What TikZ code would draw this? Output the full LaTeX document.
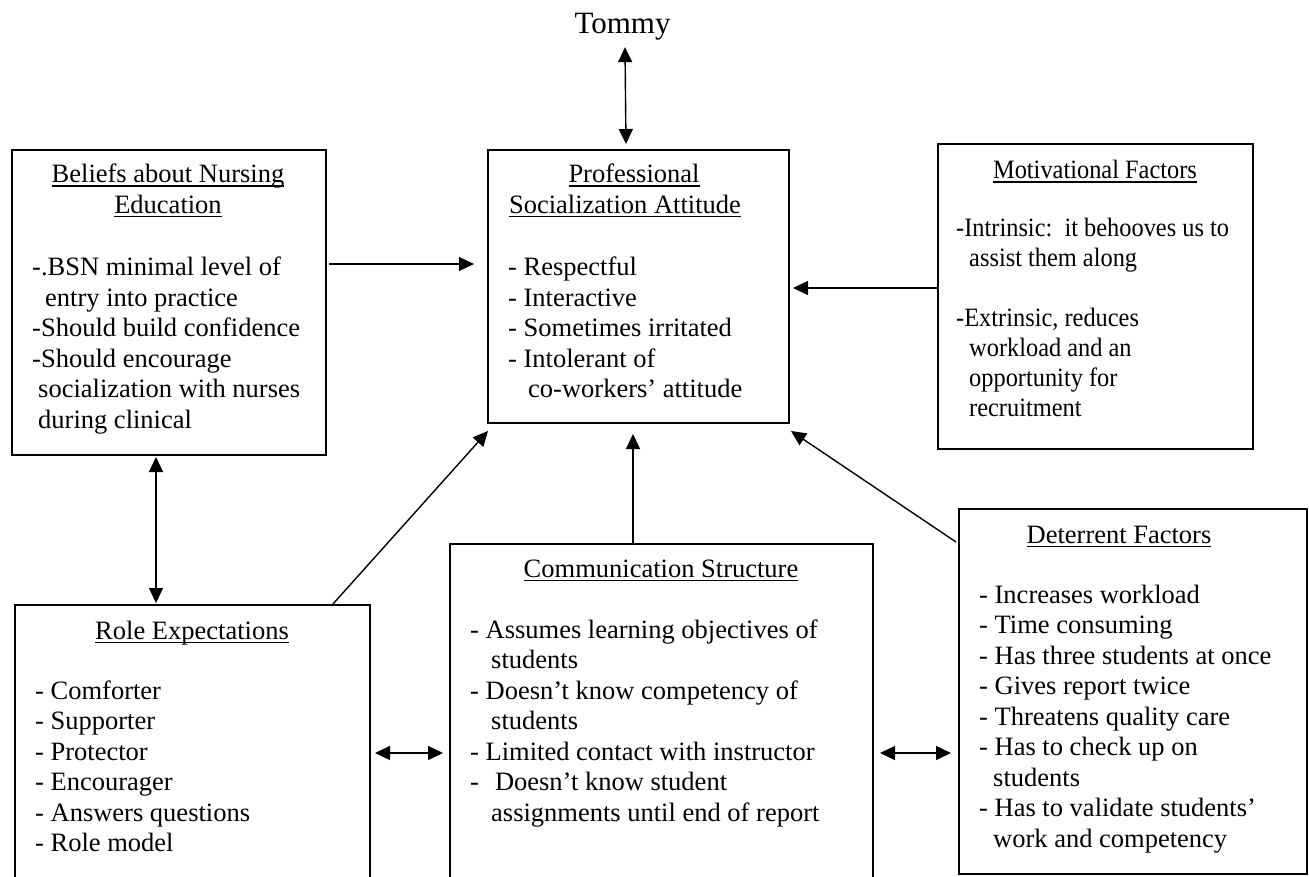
\documentclass[tikz,border=0pt]{standalone}
\usepackage{fontspec}
\setmainfont{Liberation Serif}
\newfontfamily\narrowserif[FakeStretch=0.92]{Liberation Serif}
\usetikzlibrary{arrows.meta}
% heading text with a rule a little below the baseline
\newcommand\undl[1]{\setbox0\hbox{#1}\rlap{\rule[-3.8pt]{\wd0}{1.3pt}}\box0}
\tikzset{
  box/.style={draw, line width=2pt, inner sep=0pt, anchor=north west},
  txt/.style={font=\fontsize{26.5pt}{30.5pt}\selectfont, inner sep=0pt},
  narrowtxt/.style={font=\narrowserif\fontsize{26.5pt}{30pt}\selectfont, inner sep=0pt},
  body/.style={txt, anchor=base west},
  ttl/.style={txt, anchor=base},
  tip/.tip={Triangle[length=15pt,width=14pt]},
  link/.style={line width=1.4pt, -tip},
  link2/.style={line width=1.4pt, tip-tip},
}
\begin{document}
\begin{tikzpicture}[x=1pt, y=-1pt]
\clip (0,0) rectangle (1309,877);
\fill[white] (0,0) rectangle (1309,877);

% boxes
\node[box, minimum width=314pt, minimum height=305pt] (bel) at (11,149) {};
\node[box, minimum width=301pt, minimum height=273pt] (prof) at (487,149) {};
\node[box, minimum width=315pt, minimum height=305pt] (mot) at (937,143) {};
\node[box, minimum width=355pt, minimum height=286pt] (role) at (14,604) {};
\node[box, minimum width=423pt, minimum height=347pt] (com) at (449,543) {};
\node[box, minimum width=348pt, minimum height=365pt] (det) at (958,508) {};

% top label
\node[font=\fontsize{31pt}{36pt}\selectfont, inner sep=0pt, anchor=base] (tommy) at (622.5,34) {Tommy};

% Beliefs about Nursing Education
\node[ttl] (belT) at (168,183) {\begin{tabular}[t]{@{}c@{}}\undl{Beliefs about Nursing}\\ \undl{Education}\end{tabular}};
\node[body] (belB) at (32,276) {\begin{tabular}[t]{@{}l@{}}
-.BSN minimal level of\\
\hspace*{13pt}entry into practice\\
-Should build confidence\\
-Should encourage\\
\hspace*{6pt}socialization with nurses\\
\hspace*{6pt}during clinical\end{tabular}};

% Professional Socialization Attitude
\node[ttl] (profT) at (625,183) {\begin{tabular}[t]{@{}c@{}}\hspace*{18pt}\undl{Professional}\\ \undl{Socialization Attitude}\end{tabular}};
\node[body] (profB) at (508,276) {\begin{tabular}[t]{@{}l@{}}
- Respectful\\
- Interactive\\
- Sometimes irritated\\
- Intolerant of\\
\hspace*{20pt}co-workers’ attitude\end{tabular}};

% Motivational Factors (set slightly narrower)
\node[narrowtxt, anchor=base] (motT) at (1095,179) {\undl{Motivational Factors}};
\node[narrowtxt, anchor=base west] (motB) at (956,236.5) {\begin{tabular}[t]{@{}l@{}}
-Intrinsic:\ \ it behooves us to\\
\hspace*{13pt}assist them along\\
\\
-Extrinsic, reduces\\
\hspace*{13pt}workload and an\\
\hspace*{13pt}opportunity for\\
\hspace*{13pt}recruitment\end{tabular}};

% Role Expectations
\node[ttl] (roleT) at (192,639) {\undl{Role Expectations}};
\node[body] (roleB) at (35,699) {\begin{tabular}[t]{@{}l@{}}
- Comforter\\
- Supporter\\
- Protector\\
- Encourager\\
- Answers questions\\
- Role model\end{tabular}};

% Communication Structure
\node[ttl] (comT) at (661,577) {\undl{Communication Structure}};
\node[body] (comB) at (470,638) {\begin{tabular}[t]{@{}l@{}}
- Assumes learning objectives of\\
\hspace*{21pt}students\\
- Doesn’t know competency of\\
\hspace*{21pt}students\\
- Limited contact with instructor\\
-\hspace*{16pt}Doesn’t know student\\
\hspace*{21pt}assignments until end of report\end{tabular}};

% Deterrent Factors
\node[ttl] (detT) at (1119,543) {\undl{Deterrent Factors}};
\node[body] (detB) at (979,603) {\begin{tabular}[t]{@{}l@{}}
- Increases workload\\
- Time consuming\\
- Has three students at once\\
- Gives report twice\\
- Threatens quality care\\
- Has to check up on\\
\hspace*{14pt}students\\
- Has to validate students’\\
\hspace*{14pt}work and competency\end{tabular}};

% connectors
\draw[link2] ([xshift=2.5pt, yshift=-6.3pt]tommy.south) -- ([xshift=-12.5pt, yshift=5pt]prof.north);
\draw[link] ([xshift=2pt, yshift=38.5pt]bel.east) -- ([xshift=-13pt, yshift=22.5pt]prof.west);
\draw[link] ([yshift=8.5pt]mot.west) -- ([xshift=3pt, yshift=-1.5pt]prof.east);
\draw[link2] ([xshift=-13pt, yshift=-1pt]bel.south) -- ([xshift=-36.5pt, yshift=1pt]role.north);
\draw[link] ([xshift=-38pt]role.north east) -- ([xshift=1pt, yshift=-7pt]prof.south west);
\draw[link] ([xshift=-28.5pt]com.north) -- ([xshift=-5.5pt, yshift=-10pt]prof.south);
\draw[link] ([xshift=-2pt, yshift=-34pt]det.north west) -- ([xshift=1pt, yshift=-7pt]prof.south east);
\draw[link2] ([xshift=4pt, yshift=-5pt]role.east) -- ([xshift=-6pt, yshift=-35.5pt]com.west);
\draw[link2] ([xshift=6pt, yshift=-35.5pt]com.east) -- ([xshift=-7pt, yshift=-61.5pt]det.west);
\end{tikzpicture}
\end{document}
